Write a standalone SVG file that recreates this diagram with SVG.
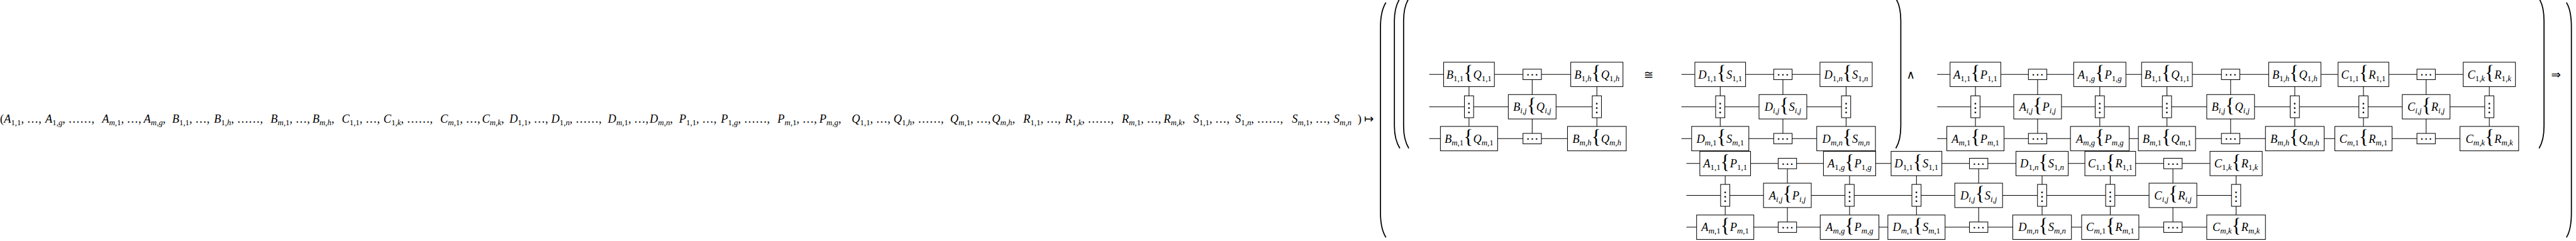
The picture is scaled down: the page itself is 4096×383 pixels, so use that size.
<svg xmlns="http://www.w3.org/2000/svg" xmlns:xlink="http://www.w3.org/1999/xlink" width="4096" height="383" viewBox="0 0 4096 383">
<style>
.t{font-family:"Liberation Serif","DejaVu Serif",serif;font-size:23.3px;fill:#000}
.lb{text-anchor:middle}
.i{font-style:italic}
.s{font-size:16.3px}
.b{font-size:40px;font-style:normal}
.sym{font-family:"DejaVu Sans",sans-serif;font-size:23.3px;fill:#000;text-anchor:middle}
.nb{fill:#fff;stroke:#000;stroke-width:1.3}
.cn{fill:none;stroke:#000;stroke-width:1.3}
.par{fill:none;stroke:#000;stroke-width:2.2}
</style>
<defs>
<g id="dt"><rect x="-18.5" y="-10.5" width="37" height="21" fill="#fff" stroke="#000" stroke-width="1.3"/><text y="9" text-anchor="middle" font-family="DejaVu Sans, sans-serif" font-size="25" fill="#000">⋯</text></g>
<g id="vd"><rect x="-9.25" y="-22" width="18.5" height="44" fill="#fff" stroke="#000" stroke-width="1.3"/><text y="11" text-anchor="middle" font-family="DejaVu Sans, sans-serif" font-size="26" fill="#000">⋮</text></g>
</defs>
<rect width="4096" height="383" fill="#fff"/>
<g transform="scale(0.791)">
<g id="tuple">
<text class="t" y="247"><tspan x="0">(</tspan><tspan class="i">A</tspan><tspan class="s" dy="5">1,1</tspan><tspan dy="-5">, …,</tspan><tspan x="91" class="i">A</tspan><tspan class="s" dy="5">1,<tspan class="i">g</tspan></tspan><tspan dy="-5">, ……,</tspan><tspan x="205" class="i">A</tspan><tspan class="s" dy="5"><tspan class="i">m</tspan>,1</tspan><tspan dy="-5">, …,</tspan><tspan x="289" class="i">A</tspan><tspan class="s" dy="5"><tspan class="i">m</tspan>,<tspan class="i">g</tspan></tspan><tspan dy="-5">,</tspan></text>
<text class="t" y="247"><tspan x="346" class="i">B</tspan><tspan class="s" dy="5">1,1</tspan><tspan dy="-5">, …,</tspan><tspan x="430" class="i">B</tspan><tspan class="s" dy="5">1,<tspan class="i">h</tspan></tspan><tspan dy="-5">, ……,</tspan><tspan x="544" class="i">B</tspan><tspan class="s" dy="5"><tspan class="i">m</tspan>,1</tspan><tspan dy="-5">, …,</tspan><tspan x="628" class="i">B</tspan><tspan class="s" dy="5"><tspan class="i">m</tspan>,<tspan class="i">h</tspan></tspan><tspan dy="-5">,</tspan></text>
<text class="t" y="247"><tspan x="687" class="i">C</tspan><tspan class="s" dy="5">1,1</tspan><tspan dy="-5">, …,</tspan><tspan x="771" class="i">C</tspan><tspan class="s" dy="5">1,<tspan class="i">k</tspan></tspan><tspan dy="-5">, ……,</tspan><tspan x="885" class="i">C</tspan><tspan class="s" dy="5"><tspan class="i">m</tspan>,1</tspan><tspan dy="-5">, …,</tspan><tspan x="969" class="i">C</tspan><tspan class="s" dy="5"><tspan class="i">m</tspan>,<tspan class="i">k</tspan></tspan><tspan dy="-5">,</tspan></text>
<text class="t" y="247"><tspan x="1024" class="i">D</tspan><tspan class="s" dy="5">1,1</tspan><tspan dy="-5">, …,</tspan><tspan x="1108" class="i">D</tspan><tspan class="s" dy="5">1,<tspan class="i">n</tspan></tspan><tspan dy="-5">, ……,</tspan><tspan x="1222" class="i">D</tspan><tspan class="s" dy="5"><tspan class="i">m</tspan>,1</tspan><tspan dy="-5">, …,</tspan><tspan x="1306" class="i">D</tspan><tspan class="s" dy="5"><tspan class="i">m</tspan>,<tspan class="i">n</tspan></tspan><tspan dy="-5">,</tspan></text>
<text class="t" y="247"><tspan x="1365" class="i">P</tspan><tspan class="s" dy="5">1,1</tspan><tspan dy="-5">, …,</tspan><tspan x="1449" class="i">P</tspan><tspan class="s" dy="5">1,<tspan class="i">g</tspan></tspan><tspan dy="-5">, ……,</tspan><tspan x="1563" class="i">P</tspan><tspan class="s" dy="5"><tspan class="i">m</tspan>,1</tspan><tspan dy="-5">, …,</tspan><tspan x="1647" class="i">P</tspan><tspan class="s" dy="5"><tspan class="i">m</tspan>,<tspan class="i">g</tspan></tspan><tspan dy="-5">,</tspan></text>
<text class="t" y="247"><tspan x="1712" class="i">Q</tspan><tspan class="s" dy="5">1,1</tspan><tspan dy="-5">, …,</tspan><tspan x="1796" class="i">Q</tspan><tspan class="s" dy="5">1,<tspan class="i">h</tspan></tspan><tspan dy="-5">, ……,</tspan><tspan x="1910" class="i">Q</tspan><tspan class="s" dy="5"><tspan class="i">m</tspan>,1</tspan><tspan dy="-5">, …,</tspan><tspan x="1994" class="i">Q</tspan><tspan class="s" dy="5"><tspan class="i">m</tspan>,<tspan class="i">h</tspan></tspan><tspan dy="-5">,</tspan></text>
<text class="t" y="247"><tspan x="2057" class="i">R</tspan><tspan class="s" dy="5">1,1</tspan><tspan dy="-5">, …,</tspan><tspan x="2141" class="i">R</tspan><tspan class="s" dy="5">1,<tspan class="i">k</tspan></tspan><tspan dy="-5">, ……,</tspan><tspan x="2255" class="i">R</tspan><tspan class="s" dy="5"><tspan class="i">m</tspan>,1</tspan><tspan dy="-5">, …,</tspan><tspan x="2339" class="i">R</tspan><tspan class="s" dy="5"><tspan class="i">m</tspan>,<tspan class="i">k</tspan></tspan><tspan dy="-5">,</tspan></text>
<text class="t" y="247"><tspan x="2399" class="i">S</tspan><tspan class="s" dy="5">1,1</tspan><tspan dy="-5">, …,</tspan><tspan x="2483" class="i">S</tspan><tspan class="s" dy="5">1,<tspan class="i">n</tspan></tspan><tspan dy="-5">, ……,</tspan><tspan x="2597" class="i">S</tspan><tspan class="s" dy="5"><tspan class="i">m</tspan>,1</tspan><tspan dy="-5">, …,</tspan><tspan x="2681" class="i">S</tspan><tspan class="s" dy="5"><tspan class="i">m</tspan>,<tspan class="i">n</tspan></tspan><tspan dy="-5" x="2729">)</tspan></text>
<text class="sym" x="2752" y="247">↦</text>
</g>
<g id="parens">
<path class="par" d="M2786,5 C2779,16 2775,32 2775,55 L2775,427 C2775,450 2779,466 2786,477"/>
<path class="par" d="M2814,-3 C2807,8 2803,22 2803,42 L2803,253 C2803,273 2807,287 2814,298"/>
<path class="par" d="M2832,-3 C2825,8 2821.5,22 2821.5,42 L2821.5,253 C2821.5,273 2825,287 2832,298"/>
<path class="par" d="M3811,-3 C3818,8 3821,22 3821,42 L3821,253 C3821,273 3818,287 3811,298"/>
<path class="par" d="M5104,-3 C5111,8 5114,22 5114,42 L5114,253 C5114,273 5111,287 5104,298"/>
<path class="par" d="M5159,5 C5166,16 5169,32 5169,55 L5169,427 C5169,450 5166,466 5159,477"/>
</g>
<g id="ops">
<text class="sym" x="3314" y="158">≅</text>
<text class="sym" x="3841" y="158">∧</text>
<text class="sym" x="5138" y="158">⇒</text>
</g>
<g id="connectors">
<path class="cn" d="M2873 149.5H3210M2873 214.5H3210M2873 278.5H3210M2953 149.5V278.5M3080 149.5V278.5M3210 149.5V278.5"/>
<path class="cn" d="M3380 149.5H3711M3380 214.5H3711M3380 278.5H3711M3458 149.5V278.5M3584 149.5V278.5M3711 149.5V278.5"/>
<path class="cn" d="M3894 149.5H5004M3894 214.5H5004M3894 278.5H5004M3971 149.5V278.5M4096 149.5V278.5M4221 149.5V278.5M4356 149.5V278.5M4484 149.5V278.5M4613 149.5V278.5M4751 149.5V278.5M4877 149.5V278.5M5004 149.5V278.5"/>
<path class="cn" d="M3390 328.5H4495M3390 392.5H4495M3390 456.5H4495M3468 328.5V456.5M3593 328.5V456.5M3718 328.5V456.5M3852.5 328.5V456.5M3977.5 328.5V456.5M4105 328.5V456.5M4242 328.5V456.5M4368 328.5V456.5M4495 328.5V456.5"/>
</g>
<g id="u1-11"><rect class="nb" x="2902" y="125" width="102" height="49"/><text class="t lb" x="2953" y="157.5"><tspan class="i">B</tspan><tspan class="s" dy="5">1,1</tspan><tspan class="b" dy="-3">{</tspan><tspan class="i" dy="-2">Q</tspan><tspan class="s" dy="5">1,1</tspan></text></g>
<g id="u1-d1"><use href="#dt" x="3080" y="149.5"/></g>
<g id="u1-1h"><rect class="nb" x="3157.5" y="125" width="105" height="49"/><text class="t lb" x="3210" y="157.5"><tspan class="i">B</tspan><tspan class="s" dy="5">1,<tspan class="i">h</tspan></tspan><tspan class="b" dy="-3">{</tspan><tspan class="i" dy="-2">Q</tspan><tspan class="s" dy="5">1,<tspan class="i">h</tspan></tspan></text></g>
<g id="u1-v1"><use href="#vd" x="2953" y="214.5"/></g>
<g id="u1-ij"><rect class="nb" x="3032" y="190" width="96" height="49"/><text class="t lb" x="3080" y="222.5"><tspan class="i">B</tspan><tspan class="s i" dy="5">i,j</tspan><tspan class="b" dy="-3">{</tspan><tspan class="i" dy="-2">Q</tspan><tspan class="s i" dy="5">i,j</tspan></text></g>
<g id="u1-v3"><use href="#vd" x="3210" y="214.5"/></g>
<g id="u1-m1"><rect class="nb" x="2895.5" y="254" width="115" height="49"/><text class="t lb" x="2953" y="286.5"><tspan class="i">B</tspan><tspan class="s" dy="5"><tspan class="i">m</tspan>,1</tspan><tspan class="b" dy="-3">{</tspan><tspan class="i" dy="-2">Q</tspan><tspan class="s" dy="5"><tspan class="i">m</tspan>,1</tspan></text></g>
<g id="u1-d3"><use href="#dt" x="3080" y="278.5"/></g>
<g id="u1-mh"><rect class="nb" x="3151" y="254" width="118" height="49"/><text class="t lb" x="3210" y="286.5"><tspan class="i">B</tspan><tspan class="s i" dy="5">m,h</tspan><tspan class="b" dy="-3">{</tspan><tspan class="i" dy="-2">Q</tspan><tspan class="s i" dy="5">m,h</tspan></text></g>

<g id="u2-11"><rect class="nb" x="3407" y="125" width="102" height="49"/><text class="t lb" x="3458" y="157.5"><tspan class="i">D</tspan><tspan class="s" dy="5">1,1</tspan><tspan class="b" dy="-3">{</tspan><tspan class="i" dy="-2">S</tspan><tspan class="s" dy="5">1,1</tspan></text></g>
<g id="u2-d1"><use href="#dt" x="3584" y="149.5"/></g>
<g id="u2-1n"><rect class="nb" x="3658.5" y="125" width="105" height="49"/><text class="t lb" x="3711" y="157.5"><tspan class="i">D</tspan><tspan class="s" dy="5">1,<tspan class="i">n</tspan></tspan><tspan class="b" dy="-3">{</tspan><tspan class="i" dy="-2">S</tspan><tspan class="s" dy="5">1,<tspan class="i">n</tspan></tspan></text></g>
<g id="u2-v1"><use href="#vd" x="3458" y="214.5"/></g>
<g id="u2-ij"><rect class="nb" x="3536" y="190" width="96" height="49"/><text class="t lb" x="3584" y="222.5"><tspan class="i">D</tspan><tspan class="s i" dy="5">i,j</tspan><tspan class="b" dy="-3">{</tspan><tspan class="i" dy="-2">S</tspan><tspan class="s i" dy="5">i,j</tspan></text></g>
<g id="u2-v3"><use href="#vd" x="3711" y="214.5"/></g>
<g id="u2-m1"><rect class="nb" x="3400.5" y="254" width="115" height="49"/><text class="t lb" x="3458" y="286.5"><tspan class="i">D</tspan><tspan class="s" dy="5"><tspan class="i">m</tspan>,1</tspan><tspan class="b" dy="-3">{</tspan><tspan class="i" dy="-2">S</tspan><tspan class="s" dy="5"><tspan class="i">m</tspan>,1</tspan></text></g>
<g id="u2-d3"><use href="#dt" x="3584" y="278.5"/></g>
<g id="u2-mn"><rect class="nb" x="3652" y="254" width="118" height="49"/><text class="t lb" x="3711" y="286.5"><tspan class="i">D</tspan><tspan class="s i" dy="5">m,n</tspan><tspan class="b" dy="-3">{</tspan><tspan class="i" dy="-2">S</tspan><tspan class="s i" dy="5">m,n</tspan></text></g>

<g id="u3a-11"><rect class="nb" x="3920" y="125" width="102" height="49"/><text class="t lb" x="3971" y="157.5"><tspan class="i">A</tspan><tspan class="s" dy="5">1,1</tspan><tspan class="b" dy="-3">{</tspan><tspan class="i" dy="-2">P</tspan><tspan class="s" dy="5">1,1</tspan></text></g>
<g id="u3a-d1"><use href="#dt" x="4096" y="149.5"/></g>
<g id="u3a-1g"><rect class="nb" x="4168.5" y="125" width="105" height="49"/><text class="t lb" x="4221" y="157.5"><tspan class="i">A</tspan><tspan class="s" dy="5">1,<tspan class="i">g</tspan></tspan><tspan class="b" dy="-3">{</tspan><tspan class="i" dy="-2">P</tspan><tspan class="s" dy="5">1,<tspan class="i">g</tspan></tspan></text></g>
<g id="u3a-v1"><use href="#vd" x="3971" y="214.5"/></g>
<g id="u3a-ij"><rect class="nb" x="4048" y="190" width="96" height="49"/><text class="t lb" x="4096" y="222.5"><tspan class="i">A</tspan><tspan class="s i" dy="5">i,j</tspan><tspan class="b" dy="-3">{</tspan><tspan class="i" dy="-2">P</tspan><tspan class="s i" dy="5">i,j</tspan></text></g>
<g id="u3a-v3"><use href="#vd" x="4221" y="214.5"/></g>
<g id="u3a-m1"><rect class="nb" x="3913.5" y="254" width="115" height="49"/><text class="t lb" x="3971" y="286.5"><tspan class="i">A</tspan><tspan class="s" dy="5"><tspan class="i">m</tspan>,1</tspan><tspan class="b" dy="-3">{</tspan><tspan class="i" dy="-2">P</tspan><tspan class="s" dy="5"><tspan class="i">m</tspan>,1</tspan></text></g>
<g id="u3a-d3"><use href="#dt" x="4096" y="278.5"/></g>
<g id="u3a-mg"><rect class="nb" x="4162" y="254" width="118" height="49"/><text class="t lb" x="4221" y="286.5"><tspan class="i">A</tspan><tspan class="s i" dy="5">m,g</tspan><tspan class="b" dy="-3">{</tspan><tspan class="i" dy="-2">P</tspan><tspan class="s i" dy="5">m,g</tspan></text></g>

<g id="u3b-11"><rect class="nb" x="4305" y="125" width="102" height="49"/><text class="t lb" x="4356" y="157.5"><tspan class="i">B</tspan><tspan class="s" dy="5">1,1</tspan><tspan class="b" dy="-3">{</tspan><tspan class="i" dy="-2">Q</tspan><tspan class="s" dy="5">1,1</tspan></text></g>
<g id="u3b-d1"><use href="#dt" x="4484" y="149.5"/></g>
<g id="u3b-1h"><rect class="nb" x="4560.5" y="125" width="105" height="49"/><text class="t lb" x="4613" y="157.5"><tspan class="i">B</tspan><tspan class="s" dy="5">1,<tspan class="i">h</tspan></tspan><tspan class="b" dy="-3">{</tspan><tspan class="i" dy="-2">Q</tspan><tspan class="s" dy="5">1,<tspan class="i">h</tspan></tspan></text></g>
<g id="u3b-v1"><use href="#vd" x="4356" y="214.5"/></g>
<g id="u3b-ij"><rect class="nb" x="4436" y="190" width="96" height="49"/><text class="t lb" x="4484" y="222.5"><tspan class="i">B</tspan><tspan class="s i" dy="5">i,j</tspan><tspan class="b" dy="-3">{</tspan><tspan class="i" dy="-2">Q</tspan><tspan class="s i" dy="5">i,j</tspan></text></g>
<g id="u3b-v3"><use href="#vd" x="4613" y="214.5"/></g>
<g id="u3b-m1"><rect class="nb" x="4298.5" y="254" width="115" height="49"/><text class="t lb" x="4356" y="286.5"><tspan class="i">B</tspan><tspan class="s" dy="5"><tspan class="i">m</tspan>,1</tspan><tspan class="b" dy="-3">{</tspan><tspan class="i" dy="-2">Q</tspan><tspan class="s" dy="5"><tspan class="i">m</tspan>,1</tspan></text></g>
<g id="u3b-d3"><use href="#dt" x="4484" y="278.5"/></g>
<g id="u3b-mh"><rect class="nb" x="4554" y="254" width="118" height="49"/><text class="t lb" x="4613" y="286.5"><tspan class="i">B</tspan><tspan class="s i" dy="5">m,h</tspan><tspan class="b" dy="-3">{</tspan><tspan class="i" dy="-2">Q</tspan><tspan class="s i" dy="5">m,h</tspan></text></g>

<g id="u3c-11"><rect class="nb" x="4700" y="125" width="102" height="49"/><text class="t lb" x="4751" y="157.5"><tspan class="i">C</tspan><tspan class="s" dy="5">1,1</tspan><tspan class="b" dy="-3">{</tspan><tspan class="i" dy="-2">R</tspan><tspan class="s" dy="5">1,1</tspan></text></g>
<g id="u3c-d1"><use href="#dt" x="4877" y="149.5"/></g>
<g id="u3c-1k"><rect class="nb" x="4951.5" y="125" width="105" height="49"/><text class="t lb" x="5004" y="157.5"><tspan class="i">C</tspan><tspan class="s" dy="5">1,<tspan class="i">k</tspan></tspan><tspan class="b" dy="-3">{</tspan><tspan class="i" dy="-2">R</tspan><tspan class="s" dy="5">1,<tspan class="i">k</tspan></tspan></text></g>
<g id="u3c-v1"><use href="#vd" x="4751" y="214.5"/></g>
<g id="u3c-ij"><rect class="nb" x="4829" y="190" width="96" height="49"/><text class="t lb" x="4877" y="222.5"><tspan class="i">C</tspan><tspan class="s i" dy="5">i,j</tspan><tspan class="b" dy="-3">{</tspan><tspan class="i" dy="-2">R</tspan><tspan class="s i" dy="5">i,j</tspan></text></g>
<g id="u3c-v3"><use href="#vd" x="5004" y="214.5"/></g>
<g id="u3c-m1"><rect class="nb" x="4693.5" y="254" width="115" height="49"/><text class="t lb" x="4751" y="286.5"><tspan class="i">C</tspan><tspan class="s" dy="5"><tspan class="i">m</tspan>,1</tspan><tspan class="b" dy="-3">{</tspan><tspan class="i" dy="-2">R</tspan><tspan class="s" dy="5"><tspan class="i">m</tspan>,1</tspan></text></g>
<g id="u3c-d3"><use href="#dt" x="4877" y="278.5"/></g>
<g id="u3c-mk"><rect class="nb" x="4945" y="254" width="118" height="49"/><text class="t lb" x="5004" y="286.5"><tspan class="i">C</tspan><tspan class="s i" dy="5">m,k</tspan><tspan class="b" dy="-3">{</tspan><tspan class="i" dy="-2">R</tspan><tspan class="s i" dy="5">m,k</tspan></text></g>

<g id="l4a-11"><rect class="nb" x="3417" y="304" width="102" height="49"/><text class="t lb" x="3468" y="336.5"><tspan class="i">A</tspan><tspan class="s" dy="5">1,1</tspan><tspan class="b" dy="-3">{</tspan><tspan class="i" dy="-2">P</tspan><tspan class="s" dy="5">1,1</tspan></text></g>
<g id="l4a-d1"><use href="#dt" x="3593" y="328.5"/></g>
<g id="l4a-1g"><rect class="nb" x="3665.5" y="304" width="105" height="49"/><text class="t lb" x="3718" y="336.5"><tspan class="i">A</tspan><tspan class="s" dy="5">1,<tspan class="i">g</tspan></tspan><tspan class="b" dy="-3">{</tspan><tspan class="i" dy="-2">P</tspan><tspan class="s" dy="5">1,<tspan class="i">g</tspan></tspan></text></g>
<g id="l4a-v1"><use href="#vd" x="3468" y="392.5"/></g>
<g id="l4a-ij"><rect class="nb" x="3545" y="368" width="96" height="49"/><text class="t lb" x="3593" y="400.5"><tspan class="i">A</tspan><tspan class="s i" dy="5">i,j</tspan><tspan class="b" dy="-3">{</tspan><tspan class="i" dy="-2">P</tspan><tspan class="s i" dy="5">i,j</tspan></text></g>
<g id="l4a-v3"><use href="#vd" x="3718" y="392.5"/></g>
<g id="l4a-m1"><rect class="nb" x="3410.5" y="432" width="115" height="49"/><text class="t lb" x="3468" y="464.5"><tspan class="i">A</tspan><tspan class="s" dy="5"><tspan class="i">m</tspan>,1</tspan><tspan class="b" dy="-3">{</tspan><tspan class="i" dy="-2">P</tspan><tspan class="s" dy="5"><tspan class="i">m</tspan>,1</tspan></text></g>
<g id="l4a-d3"><use href="#dt" x="3593" y="456.5"/></g>
<g id="l4a-mg"><rect class="nb" x="3659" y="432" width="118" height="49"/><text class="t lb" x="3718" y="464.5"><tspan class="i">A</tspan><tspan class="s i" dy="5">m,g</tspan><tspan class="b" dy="-3">{</tspan><tspan class="i" dy="-2">P</tspan><tspan class="s i" dy="5">m,g</tspan></text></g>

<g id="l4d-11"><rect class="nb" x="3801.5" y="304" width="102" height="49"/><text class="t lb" x="3852.5" y="336.5"><tspan class="i">D</tspan><tspan class="s" dy="5">1,1</tspan><tspan class="b" dy="-3">{</tspan><tspan class="i" dy="-2">S</tspan><tspan class="s" dy="5">1,1</tspan></text></g>
<g id="l4d-d1"><use href="#dt" x="3977.5" y="328.5"/></g>
<g id="l4d-1n"><rect class="nb" x="4052.5" y="304" width="105" height="49"/><text class="t lb" x="4105" y="336.5"><tspan class="i">D</tspan><tspan class="s" dy="5">1,<tspan class="i">n</tspan></tspan><tspan class="b" dy="-3">{</tspan><tspan class="i" dy="-2">S</tspan><tspan class="s" dy="5">1,<tspan class="i">n</tspan></tspan></text></g>
<g id="l4d-v1"><use href="#vd" x="3852.5" y="392.5"/></g>
<g id="l4d-ij"><rect class="nb" x="3929.5" y="368" width="96" height="49"/><text class="t lb" x="3977.5" y="400.5"><tspan class="i">D</tspan><tspan class="s i" dy="5">i,j</tspan><tspan class="b" dy="-3">{</tspan><tspan class="i" dy="-2">S</tspan><tspan class="s i" dy="5">i,j</tspan></text></g>
<g id="l4d-v3"><use href="#vd" x="4105" y="392.5"/></g>
<g id="l4d-m1"><rect class="nb" x="3795" y="432" width="115" height="49"/><text class="t lb" x="3852.5" y="464.5"><tspan class="i">D</tspan><tspan class="s" dy="5"><tspan class="i">m</tspan>,1</tspan><tspan class="b" dy="-3">{</tspan><tspan class="i" dy="-2">S</tspan><tspan class="s" dy="5"><tspan class="i">m</tspan>,1</tspan></text></g>
<g id="l4d-d3"><use href="#dt" x="3977.5" y="456.5"/></g>
<g id="l4d-mn"><rect class="nb" x="4046" y="432" width="118" height="49"/><text class="t lb" x="4105" y="464.5"><tspan class="i">D</tspan><tspan class="s i" dy="5">m,n</tspan><tspan class="b" dy="-3">{</tspan><tspan class="i" dy="-2">S</tspan><tspan class="s i" dy="5">m,n</tspan></text></g>

<g id="l4c-11"><rect class="nb" x="4191" y="304" width="102" height="49"/><text class="t lb" x="4242" y="336.5"><tspan class="i">C</tspan><tspan class="s" dy="5">1,1</tspan><tspan class="b" dy="-3">{</tspan><tspan class="i" dy="-2">R</tspan><tspan class="s" dy="5">1,1</tspan></text></g>
<g id="l4c-d1"><use href="#dt" x="4368" y="328.5"/></g>
<g id="l4c-1k"><rect class="nb" x="4442.5" y="304" width="105" height="49"/><text class="t lb" x="4495" y="336.5"><tspan class="i">C</tspan><tspan class="s" dy="5">1,<tspan class="i">k</tspan></tspan><tspan class="b" dy="-3">{</tspan><tspan class="i" dy="-2">R</tspan><tspan class="s" dy="5">1,<tspan class="i">k</tspan></tspan></text></g>
<g id="l4c-v1"><use href="#vd" x="4242" y="392.5"/></g>
<g id="l4c-ij"><rect class="nb" x="4320" y="368" width="96" height="49"/><text class="t lb" x="4368" y="400.5"><tspan class="i">C</tspan><tspan class="s i" dy="5">i,j</tspan><tspan class="b" dy="-3">{</tspan><tspan class="i" dy="-2">R</tspan><tspan class="s i" dy="5">i,j</tspan></text></g>
<g id="l4c-v3"><use href="#vd" x="4495" y="392.5"/></g>
<g id="l4c-m1"><rect class="nb" x="4184.5" y="432" width="115" height="49"/><text class="t lb" x="4242" y="464.5"><tspan class="i">C</tspan><tspan class="s" dy="5"><tspan class="i">m</tspan>,1</tspan><tspan class="b" dy="-3">{</tspan><tspan class="i" dy="-2">R</tspan><tspan class="s" dy="5"><tspan class="i">m</tspan>,1</tspan></text></g>
<g id="l4c-d3"><use href="#dt" x="4368" y="456.5"/></g>
<g id="l4c-mk"><rect class="nb" x="4436" y="432" width="118" height="49"/><text class="t lb" x="4495" y="464.5"><tspan class="i">C</tspan><tspan class="s i" dy="5">m,k</tspan><tspan class="b" dy="-3">{</tspan><tspan class="i" dy="-2">R</tspan><tspan class="s i" dy="5">m,k</tspan></text></g>
</g>
</svg>
